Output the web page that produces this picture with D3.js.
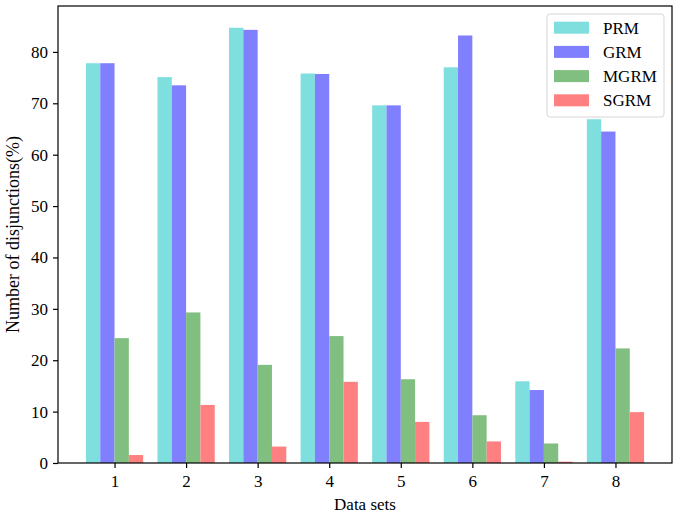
<!DOCTYPE html>
<html>
<head>
<meta charset="utf-8">
<script src="https://cdn.jsdelivr.net/npm/d3@7"></script>
<style>
  body { margin: 0; background: #fff; }
  text { font-family: "Liberation Serif", "Times New Roman", serif; }
</style>
</head>
<body>
<div class="chart"></div>
<script>
// data
var dataSets = [1, 2, 3, 4, 5, 6, 7, 8];
var seriesNames = ["PRM", "GRM", "MGRM", "SGRM"];
var prm  = [77.8, 75.1, 84.7, 75.8, 69.6, 77.0, 15.9, 66.9];
var grm  = [77.8, 73.5, 84.3, 75.7, 69.6, 83.2, 14.2, 64.5];
var mgrm = [24.3, 29.3, 19.1, 24.7, 16.3, 9.3, 3.8, 22.3];
var sgrm = [1.55, 11.3, 3.2, 15.8, 8.0, 4.2, 0.25, 9.9];
var yTicks = [0, 10, 20, 30, 40, 50, 60, 70, 80];
var colors = ["#7fdfdf", "#8080ff", "#80bf80", "#ff8080"];

var series = [prm, grm, mgrm, sgrm];

var svgWidth = 680;
var svgHeight = 517;
var margin = { top: 6, right: 8, bottom: 54, left: 58 };
var width = svgWidth - margin.left - margin.right;
var height = svgHeight - margin.top - margin.bottom;

var svg = d3.select(".chart")
  .append("svg")
  .attr("width", svgWidth)
  .attr("height", svgHeight);

var chartGroup = svg.append("g")
  .attr("transform", `translate(${margin.left}, ${margin.top})`);

var barW = 0.2;
var xScale = d3.scaleLinear()
  .domain([0.21, 8.79])
  .range([0, width]);

var yMax = d3.max(series, s => d3.max(s)) * 1.05;
var yScale = d3.scaleLinear()
  .domain([0, yMax])
  .range([height, 0]);

// bars
series.forEach(function(vals, si) {
  chartGroup.append("g")
    .selectAll("rect")
    .data(vals)
    .enter()
    .append("rect")
    .attr("x", (d, i) => xScale(dataSets[i] + (si - 2) * barW))
    .attr("y", d => yScale(d))
    .attr("width", xScale(barW) - xScale(0))
    .attr("height", d => yScale(0) - yScale(d))
    .attr("fill", colors[si]);
});

// axes
var bottomAxis = d3.axisBottom(xScale)
  .tickValues(dataSets)
  .tickFormat(d3.format("d"))
  .tickSize(5)
  .tickPadding(7);
var leftAxis = d3.axisLeft(yScale)
  .tickValues(yTicks)
  .tickSize(5)
  .tickPadding(5);

var xAxis = chartGroup.append("g")
  .attr("transform", `translate(0, ${height})`)
  .call(bottomAxis);
var yAxis = chartGroup.append("g")
  .call(leftAxis);

[xAxis, yAxis].forEach(function(ax) {
  ax.attr("font-size", null).attr("font-family", null);
  ax.select(".domain").remove();
  ax.selectAll("line").attr("stroke", "#000").attr("stroke-width", 1.2);
  ax.selectAll("text")
    .attr("fill", "#000")
    .style("font-size", "17px");
});

// frame
chartGroup.append("rect")
  .attr("width", width)
  .attr("height", height)
  .attr("fill", "none")
  .attr("stroke", "#000")
  .attr("stroke-width", 1.2);

// axis labels
svg.append("text")
  .attr("x", margin.left + width / 2)
  .attr("y", 510)
  .attr("text-anchor", "middle")
  .style("font-size", "17px")
  .text("Data sets");

svg.append("text")
  .attr("transform", `translate(19, ${margin.top + height / 2}) rotate(-90)`)
  .attr("text-anchor", "middle")
  .style("font-size", "18px")
  .text("Number of disjunctions(%)");

// legend
var legend = svg.append("g")
  .attr("transform", "translate(547, 14)");

legend.append("rect")
  .attr("width", 117)
  .attr("height", 103)
  .attr("rx", 3)
  .attr("fill", "#fff")
  .attr("fill-opacity", 0.8)
  .attr("stroke", "#d6d6d6");

seriesNames.forEach(function(name, i) {
  var row = legend.append("g")
    .attr("transform", `translate(0, ${13.7 + i * 24.2})`);
  row.append("rect")
    .attr("x", 7)
    .attr("y", -6)
    .attr("width", 35)
    .attr("height", 12)
    .attr("fill", colors[i]);
  row.append("text")
    .attr("x", 56)
    .attr("y", 6)
    .style("font-size", "17px")
    .text(name);
});
</script>
</body>
</html>
